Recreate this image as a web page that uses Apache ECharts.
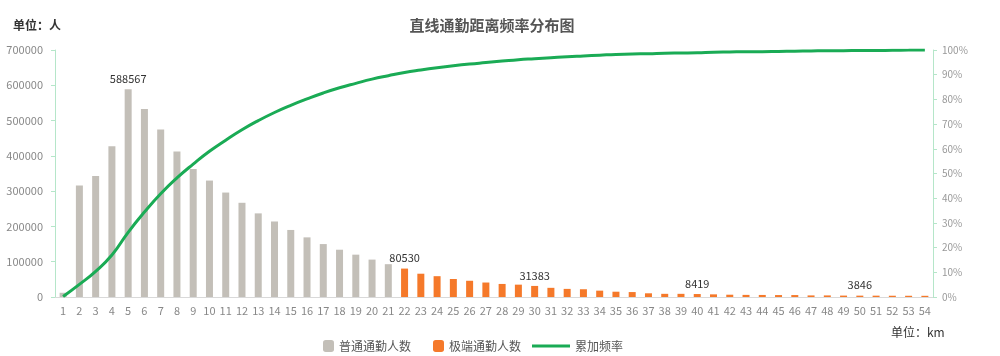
<!DOCTYPE html>
<html><head><meta charset="utf-8">
<script src="https://cdn.jsdelivr.net/npm/echarts@6/dist/echarts.min.js"></script>
<style>html,body{margin:0;padding:0;background:#fff}#c{width:1000px;height:356px}</style>
</head><body><div id="c"></div>
<script>
const categories = [];
for (let i = 1; i <= 54; i++) categories.push(String(i));
const normalCommute = [12000,316000,343000,427000,588567,533000,475000,412000,363000,330000,296000,267000,237000,214000,190000,169000,150000,134000,120000,106000,93000];
const extremeCommute = [80530,66000,59000,51000,46000,41000,37000,35000,31383,26000,23000,22000,18000,15000,14000,10500,9000,9000,8419,7500,6500,6000,5800,5500,5500,4500,4500,4000,3846,3800,3600,3500,3400];
const cumulativePct = [0.2,5.1,10.4,17.0,26.2,34.4,41.8,48.2,53.8,59.0,63.5,67.7,71.4,74.7,77.6,80.2,82.6,84.7,86.5,88.2,89.6,90.9,91.9,92.8,93.6,94.3,94.9,95.5,96.1,96.5,96.9,97.3,97.6,97.9,98.2,98.4,98.5,98.7,98.8,98.9,99.1,99.2,99.3,99.3,99.4,99.5,99.6,99.7,99.7,99.8,99.8,99.9,99.95,100];
const labeledIdx = [4, 21, 29, 39, 49];
const leftTicks = [0, 700000, 100000];

const FONT = '"Noto Sans CJK SC", "Open Sans", sans-serif';
const nCount = normalCommute.length;
function mk(v, i) {
  if (v === '-') return '-';
  return labeledIdx.includes(i) ? {value: v, label: {show: true}} : v;
}
const normalData = categories.map((c, i) => mk(i < nCount ? normalCommute[i] : '-', i));
const extremeData = categories.map((c, i) => mk(i >= nCount ? extremeCommute[i - nCount] : '-', i));
const barLabel = {show: false, position: 'top', distance: 5, color: '#333', fontSize: 11, fontFamily: FONT};

const chart = echarts.init(document.getElementById('c'), null, {renderer: 'canvas'});
chart.setOption({
  animation: false,
  textStyle: {fontFamily: FONT},
  title: [
    {text: '直线通勤距离频率分布图', left: 487, top: 13, textAlign: 'center',
     textStyle: {fontSize: 15, fontWeight: 'bold', color: '#555', fontFamily: FONT}},
    {text: '单位：人', left: 8, top: 14, textStyle: {fontSize: 12, fontWeight: 'bold', color: '#333', fontFamily: FONT}},
    {text: '单位：km', left: 886, top: 321, textStyle: {fontSize: 12, fontWeight: 'normal', color: '#333', fontFamily: FONT}}
  ],
  legend: [
    {data: ['普通通勤人数', '极端通勤人数'], left: 318, top: 335, itemWidth: 11, itemHeight: 12, itemGap: 22,
     textStyle: {fontSize: 12, color: '#555', fontFamily: FONT}},
    {data: ['累加频率'], left: 527, top: 335, icon: 'rect', itemWidth: 38, itemHeight: 3,
     textStyle: {fontSize: 12, color: '#555', fontFamily: FONT}}
  ],
  grid: {left: 55, right: 67, top: 50, bottom: 59},
  xAxis: {
    type: 'category', data: categories,
    axisLine: {lineStyle: {color: '#d9d9d9'}},
    axisTick: {show: false},
    axisLabel: {interval: 0, color: '#888', fontSize: 11, margin: 8, fontFamily: FONT}
  },
  yAxis: [
    {type: 'value', min: leftTicks[0], max: leftTicks[1], interval: leftTicks[2],
     axisLine: {show: true, lineStyle: {color: '#b5e6c9'}},
     axisTick: {show: true, length: 4, lineStyle: {color: '#b5e6c9'}},
     splitLine: {show: false},
     axisLabel: {color: '#888', fontSize: 11, margin: 12, fontFamily: FONT, formatter: v => String(v)}},
    {type: 'value', min: 0, max: 100, interval: 10, position: 'right',
     axisLine: {show: true, lineStyle: {color: '#b5e6c9'}},
     axisTick: {show: true, length: 4, lineStyle: {color: '#b5e6c9'}},
     splitLine: {show: false},
     axisLabel: {color: '#999', fontSize: 10, margin: 9, formatter: '{value}%', fontFamily: FONT}}
  ],
  series: [
    {name: '普通通勤人数', type: 'bar', data: normalData, barWidth: 7, barGap: '-100%',
     itemStyle: {color: '#c3bfb8'}, label: barLabel},
    {name: '极端通勤人数', type: 'bar', data: extremeData, barWidth: 7, barGap: '-100%',
     itemStyle: {color: '#f5792a'}, label: barLabel},
    {name: '累加频率', type: 'line', yAxisIndex: 1, data: cumulativePct, smooth: true,
     showSymbol: false, symbol: 'none', lineStyle: {width: 3, color: '#1aab55'}, itemStyle: {color: '#1aab55'}, z: 5}
  ]
});
</script></body></html>
